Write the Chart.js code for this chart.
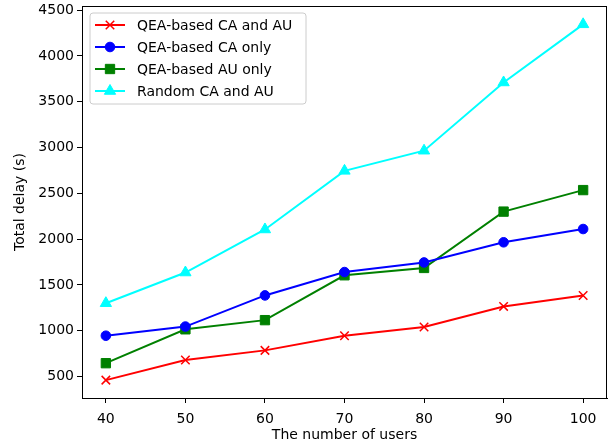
<!DOCTYPE html>
<html>
<head>
<meta charset="utf-8">
<script src="https://cdn.jsdelivr.net/npm/chart.js@4/dist/chart.umd.min.js"></script>
<style>
html,body{margin:0;padding:0;background:#fff;}
#wrap{width:611px;height:447px;}
</style>
</head>
<body>
<div id="wrap"><canvas id="delayChart" width="611" height="447"></canvas></div>
<script>
/* ================= DATA ================= */

const users=[40,50,60,70,80,90,100];
const yTicks=[500,1000,1500,2000,2500,3000,3500,4000,4500];

const qeaBoth=[460,680,785,945,1040,1265,1385];
const qeaCaOnly=[945,1045,1385,1640,1745,1965,2110];
const qeaAuOnly=[645,1015,1115,1605,1685,2300,2535];
const randomBoth=[1300,1635,2105,2745,2965,3710,4345];

const seriesNames=["QEA-based CA and AU","QEA-based CA only","QEA-based AU only","Random CA and AU"];

/* ================= HELPERS ================= */

const FONT="'DejaVu Sans', sans-serif";

function toPoints(vals){
return users.map((u,i)=>({x:u,y:vals[i]}));
}

function makeSet(label,vals,color,style,radius){
return {
label,
data:toPoints(vals),
borderColor:color,
backgroundColor:color,
borderWidth:2,
pointStyle:style,
pointRadius:radius,
pointHoverRadius:radius,
pointBorderWidth:style==="crossRot"?1.5:1,
pointBorderColor:color,
pointBackgroundColor:color,
tension:0,
clip:false
};
}

/* frame round the plot + legend box inside it */
const framePlugin={
id:"frame",
afterDatasetsDraw(chart){
const {ctx,chartArea:a}=chart;
ctx.save();
ctx.strokeStyle="#000";
ctx.lineWidth=1;
ctx.strokeRect(a.left+0.5,a.top+0.5,a.right-a.left-1,a.bottom-a.top);

// legend
const bx=a.left+8,by=a.top+7,bw=216,bh=91;
ctx.fillStyle="rgba(255,255,255,0.8)";
ctx.strokeStyle="#cccccc";
ctx.beginPath();
ctx.roundRect(bx,by,bw,bh,3);
ctx.fill();
ctx.stroke();

ctx.font="14px "+FONT;
ctx.textBaseline="middle";
chart.data.datasets.forEach((ds,i)=>{
const y=by+12+i*22;
ctx.strokeStyle=ds.borderColor;
ctx.lineWidth=2;
ctx.beginPath();
ctx.moveTo(bx+5,y);
ctx.lineTo(bx+35,y);
ctx.stroke();
ctx.fillStyle=ds.backgroundColor;
ctx.lineWidth=ds.pointBorderWidth;
Chart.helpers.drawPoint(ctx,{pointStyle:ds.pointStyle,radius:ds.pointRadius,rotation:0,borderWidth:ds.pointBorderWidth},bx+20,y);
ctx.fillStyle="#000";
ctx.fillText(ds.label,bx+47,y+1);
});
ctx.restore();
}
};

/* ================= CHART ================= */

new Chart(document.getElementById("delayChart"),{
type:"line",
data:{
datasets:[
makeSet(seriesNames[0],qeaBoth,"#ff0000","crossRot",6),
makeSet(seriesNames[1],qeaCaOnly,"#0000ff","circle",4.8),
makeSet(seriesNames[2],qeaAuOnly,"#008000","rect",6.6),
makeSet(seriesNames[3],randomBoth,"#00ffff","triangle",6.5)
]
},
options:{
responsive:false,
animation:false,
layout:{autoPadding:false,padding:{top:6,right:4,left:0,bottom:0}},
plugins:{legend:{display:false},tooltip:{enabled:false}},
scales:{
x:{
type:"linear",
min:37,
max:103,
afterBuildTicks(s){s.ticks=users.map(v=>({value:v}));},
afterFit(s){s.height=49;s.paddingLeft=0;s.paddingRight=0;},
grid:{drawOnChartArea:false,drawTicks:true,tickLength:5,color:"#000"},
border:{display:true,color:"#000"},
ticks:{color:"#000",font:{family:FONT,size:14},padding:8,maxRotation:0,callback:v=>String(v)},
title:{display:true,text:"The number of users",color:"#000",font:{family:FONT,size:14},padding:{top:0,bottom:3}}
},
y:{
min:265,
max:4545,
afterBuildTicks(s){s.ticks=yTicks.map(v=>({value:v}));},
afterFit(s){s.width=82;s.paddingTop=0;s.paddingBottom=0;},
grid:{drawOnChartArea:false,drawTicks:true,tickLength:5,color:"#000"},
border:{display:true,color:"#000"},
ticks:{color:"#000",font:{family:FONT,size:14},padding:3,callback:v=>String(v)},
title:{display:true,text:"Total delay (s)",color:"#000",font:{family:FONT,size:14},padding:{top:12,bottom:0}}
}
}
},
plugins:[framePlugin]
});
</script>
</body>
</html>
